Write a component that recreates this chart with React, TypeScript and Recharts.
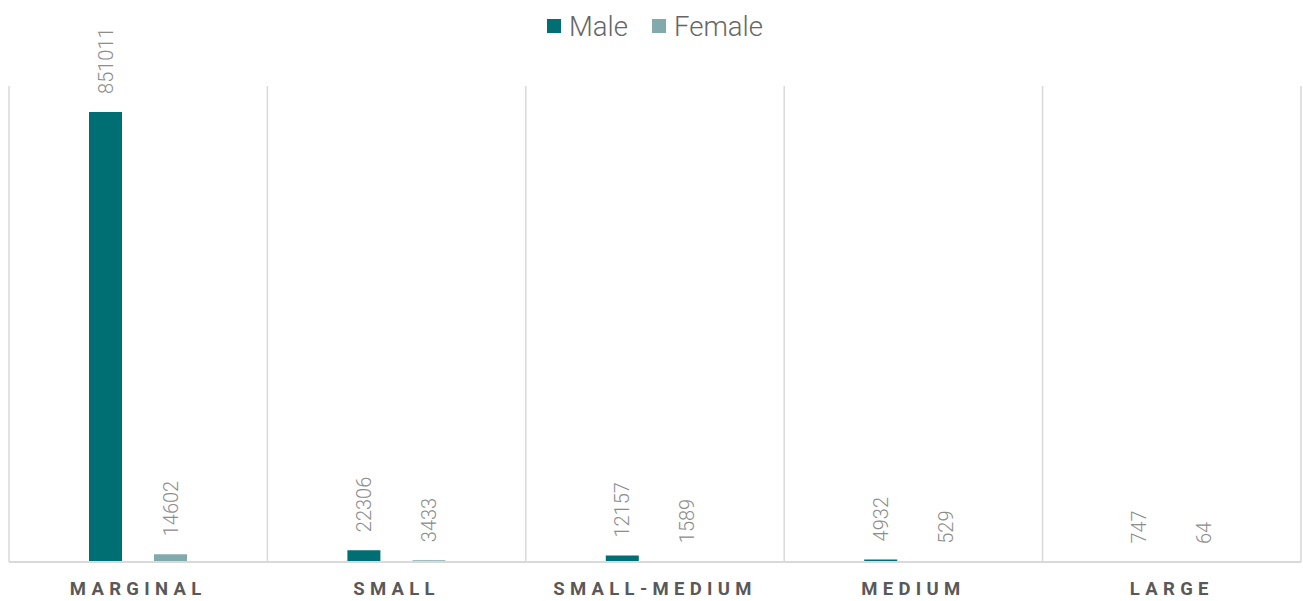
import { BarChart, Bar, XAxis, YAxis, CartesianGrid, Legend, LabelList } from 'recharts'

const categories = ['MARGINAL', 'SMALL', 'SMALL-MEDIUM', 'MEDIUM', 'LARGE']
const maleValues = [851011, 22306, 12157, 4932, 747]
const femaleValues = [14602, 3433, 1589, 529, 64]

const MALE_COLOR = '#006f73'
const FEMALE_COLOR = '#82a9ac'
const GRID_COLOR = '#d9d9d9'

const data = categories.map((name, i) => ({
  name,
  Male: maleValues[i],
  Female: femaleValues[i],
}))

// rotated value label sitting above each bar
function ValueLabel(props: any) {
  const { x, y, width, value } = props
  const cx = x + width / 2
  const cy = y - 18
  return (
    <text
      x={cx}
      y={cy}
      dy="0.36em"
      transform={`rotate(-90, ${cx}, ${cy})`}
      textAnchor="start"
      fill="#8c8c8c"
      fontFamily="Roboto"
      fontWeight={300}
      fontSize={20}
    >
      {value}
    </text>
  )
}

function CategoryTick(props: any) {
  const { x, y, payload } = props
  return (
    <text
      x={x}
      y={y + 25}
      textAnchor="middle"
      fill="#595959"
      fontFamily="Roboto"
      fontWeight={700}
      fontSize={18.5}
      letterSpacing={5.3}
    >
      {payload.value}
    </text>
  )
}

function LegendContent() {
  const items = [
    { label: 'Male', color: MALE_COLOR },
    { label: 'Female', color: FEMALE_COLOR },
  ]
  return (
    <div style={{ height: 40, display: 'flex', justifyContent: 'center', alignItems: 'center', gap: 24 }}>
      {items.map(it => (
        <div key={it.label} style={{ display: 'flex', alignItems: 'center', gap: 8 }}>
          <span style={{ width: 14, height: 14, background: it.color, display: 'inline-block' }} />
          <span style={{ fontFamily: 'Roboto', fontWeight: 300, fontSize: 27.5, color: '#666' }}>{it.label}</span>
        </div>
      ))}
    </div>
  )
}

export default function App() {
  return (
    <div style={{ position: 'absolute', left: 0, top: 0 }}>
      <BarChart
        width={1303}
        height={601}
        data={data}
        margin={{ top: 46, right: 2, bottom: 0, left: 9 }}
        barSize={33}
        barGap={32}
      >
        <CartesianGrid
          horizontal={false}
          stroke={GRID_COLOR}
          strokeWidth={1.5}
          verticalCoordinatesGenerator={({ offset }: any) =>
            categories.map((_, i) => offset.left + (i * offset.width) / categories.length)
              .concat(offset.left + offset.width)
          }
        />
        <XAxis
          dataKey="name"
          height={39}
          axisLine={{ stroke: GRID_COLOR, strokeWidth: 2 }}
          tickLine={false}
          tick={<CategoryTick />}
          interval={0}
        />
        <YAxis hide domain={[0, 900000]} />
        <Legend verticalAlign="top" wrapperStyle={{ top: 6 }} content={<LegendContent />} />
        <Bar dataKey="Male" fill={MALE_COLOR} isAnimationActive={false}>
          <LabelList dataKey="Male" content={<ValueLabel />} />
        </Bar>
        <Bar dataKey="Female" fill={FEMALE_COLOR} isAnimationActive={false}>
          <LabelList dataKey="Female" content={<ValueLabel />} />
        </Bar>
      </BarChart>
    </div>
  )
}
